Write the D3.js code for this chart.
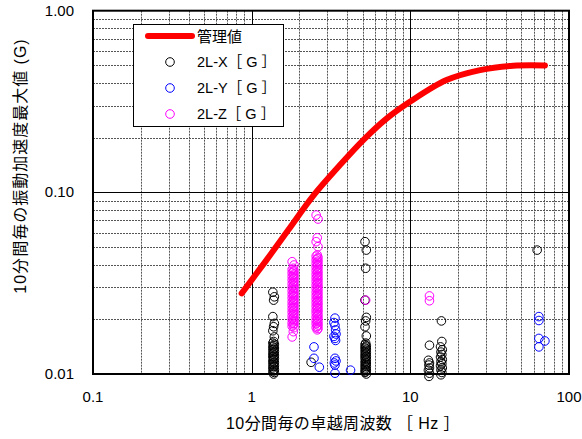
<!DOCTYPE html>
<html lang="ja">
  <head>
    <meta charset="UTF-8" />
    <title>卓越周波数と振動加速度</title>
    <script src="https://d3js.org/d3.v7.min.js"></script>
    <style>
      body { margin: 0; background: #fff; }
      text { font-family: "Liberation Sans", "Noto Sans CJK JP", sans-serif; fill: #000; }
    </style>
  </head>
  <body>
    <div id="chart"></div>
    <script>
      // 管理値 curve [Hz, G]
      var limitCurve = [
        [0.865, 0.0278], [1.213, 0.0413], [1.70, 0.062], [2.434, 0.0954], [3.60, 0.1413],
        [5.05, 0.194], [7.02, 0.253], [9.94, 0.315], [16.9, 0.415], [27.5, 0.471],
        [44.5, 0.498], [70.5, 0.5]
      ];

      // dense columns: the frequencies each column's points sit on, then their values (G)
      var xCol1Freqs = [1.36, 1.39, 1.375];
      var xCol1 = [
        0.0282, 0.0266, 0.0255, 0.0207, 0.019, 0.0182, 0.0173, 0.0160,
        0.0151, 0.0148, 0.0146, 0.0143, 0.0141, 0.0139, 0.0137, 0.0135, 0.0133, 0.0131,
        0.0129, 0.0127, 0.0125, 0.0124, 0.0122, 0.0120, 0.0118, 0.0116, 0.0115, 0.0113,
        0.0111, 0.0110, 0.0108, 0.0106, 0.0105, 0.0103, 0.0102, 0.0100
      ];
      var xCol2Freqs = [5.18, 5.28, 5.23];
      var xCol2 = [
        0.0535, 0.0481, 0.0382, 0.0255, 0.0205, 0.0196, 0.0182, 0.0162, 0.0148,
        0.0145, 0.0143, 0.0141, 0.0139, 0.0137, 0.0135, 0.0133, 0.0131, 0.0129, 0.0127,
        0.0125, 0.0124, 0.0122, 0.0120, 0.0118, 0.0116, 0.0115, 0.0113, 0.0111, 0.0110,
        0.0108, 0.0106, 0.0105, 0.0103, 0.0102, 0.0100
      ];
      var zCol1Freqs = [1.80, 1.85, 1.83];
      var zCol1 = [
        0.0415, 0.0398, 0.0382, 0.0376, 0.0371, 0.0365, 0.0360, 0.0354, 0.0349, 0.0344,
        0.0339, 0.0334, 0.0329, 0.0324, 0.0319, 0.0314, 0.0309, 0.0305, 0.0300, 0.0296,
        0.0291, 0.0287, 0.0282, 0.0278, 0.0274, 0.0270, 0.0266, 0.0262, 0.0258, 0.0254,
        0.0250, 0.0247, 0.0243, 0.0239, 0.0236, 0.0232, 0.0229, 0.0225, 0.0222, 0.0219,
        0.0216, 0.0212, 0.0209, 0.0206, 0.0203, 0.0200, 0.0197, 0.0194, 0.0191, 0.0189,
        0.0186, 0.0183, 0.0180, 0.0171, 0.0160
      ];
      var zCol2Freqs = [2.55, 2.62, 2.59];
      var zCol2 = [
        0.0750, 0.0713, 0.0562, 0.0535, 0.0502,
        0.0452, 0.0445, 0.0438, 0.0431, 0.0425, 0.0418, 0.0412, 0.0406, 0.0400, 0.0394,
        0.0388, 0.0382, 0.0376, 0.0371, 0.0365, 0.0360, 0.0354, 0.0349, 0.0344, 0.0339,
        0.0334, 0.0329, 0.0324, 0.0319, 0.0314, 0.0309, 0.0305, 0.0300, 0.0296, 0.0291,
        0.0287, 0.0282, 0.0278, 0.0274, 0.0270, 0.0266, 0.0262, 0.0258, 0.0254, 0.0250,
        0.0247, 0.0243, 0.0239, 0.0236, 0.0232, 0.0229, 0.0225, 0.0222, 0.0219, 0.0216,
        0.0212, 0.0209, 0.0206, 0.0203, 0.0200, 0.0197, 0.0194, 0.0191, 0.0189, 0.0186,
        0.0183, 0.0180, 0.0178, 0.0175
      ];

      // remaining single points [Hz, G]
      var xOther = [
        [2.37, 0.0116],
        [13.2, 0.0144], [13.0, 0.0119], [13.2, 0.0115], [13.1, 0.0112], [13.2, 0.0108],
        [13.0, 0.0105], [13.2, 0.0101], [13.1, 0.0097],
        [15.7, 0.0196], [15.8, 0.0151], [15.5, 0.0141], [15.9, 0.0136], [15.6, 0.0132],
        [15.8, 0.0128], [15.5, 0.0124], [15.9, 0.012], [15.6, 0.0117], [15.8, 0.0114],
        [15.5, 0.0111], [15.9, 0.0108], [15.6, 0.0105], [15.8, 0.0102], [15.6, 0.0099],
        [63.0, 0.0481]
      ];
      var seriesY = [
        [2.47, 0.0141], [2.47, 0.0122], [2.67, 0.0109],
        [3.35, 0.0203], [3.3, 0.0192], [3.35, 0.0185], [3.38, 0.0175], [3.4, 0.0166],
        [3.3, 0.0161], [3.35, 0.0157], [3.38, 0.0153], [3.35, 0.0122], [3.4, 0.0118],
        [3.32, 0.0115], [3.35, 0.0112], [3.35, 0.0101],
        [4.2, 0.0105],
        [64.6, 0.0207], [64.6, 0.0197], [64.6, 0.0157], [70.5, 0.0152], [64.6, 0.0141]
      ];
      var zOther = [
        [5.23, 0.0255],
        [13.2, 0.0269], [13.2, 0.0253]
      ];

      var xTicks = [0.1, 1, 10, 100];
      var yTicks = [0.01, 0.1, 1];
      var yTickLabels = ["0.01", "0.10", "1.00"];

      function column(freqs, values) {
        return values.map(function (v, i) { return [freqs[i % freqs.length], v]; });
      }
      var seriesX = column(xCol1Freqs, xCol1).concat(column(xCol2Freqs, xCol2), xOther);
      var seriesZ = column(zCol1Freqs, zCol1).concat(column(zCol2Freqs, zCol2), zOther);

      var width = 582, height = 439;
      var plotLeft = 93, plotRight = 569, plotTop = 10.7, plotBottom = 374;

      var svg = d3.select("#chart").append("svg")
        .attr("width", width).attr("height", height);

      var x = d3.scaleLog().domain([0.1, 100]).range([plotLeft, plotRight]);
      var y = d3.scaleLog().domain([0.01, 1]).range([plotBottom, plotTop]);

      // minor grid
      var minorX = [];
      [0.1, 1, 10].forEach(function (d) {
        for (var k = 2; k <= 9; k++) minorX.push(d * k);
      });
      var minorY = [];
      [0.01, 0.1].forEach(function (d) {
        for (var k = 2; k <= 9; k++) minorY.push(d * k);
      });

      var grid = svg.append("g");
      grid.selectAll(".mx").data(minorX).enter().append("line")
        .attr("x1", function (d) { return Math.round(x(d)) + 0.5; })
        .attr("x2", function (d) { return Math.round(x(d)) + 0.5; })
        .attr("y1", plotTop).attr("y2", plotBottom)
        .attr("stroke", "#555").attr("stroke-width", 1).attr("stroke-dasharray", "2,1");
      grid.selectAll(".my").data(minorY).enter().append("line")
        .attr("y1", function (d) { return Math.round(y(d)) + 0.5; })
        .attr("y2", function (d) { return Math.round(y(d)) + 0.5; })
        .attr("x1", plotLeft).attr("x2", plotRight)
        .attr("stroke", "#555").attr("stroke-width", 1).attr("stroke-dasharray", "2,1");

      // major grid
      grid.selectAll(".Mx").data([1, 10]).enter().append("line")
        .attr("x1", function (d) { return Math.round(x(d)) + 0.5; })
        .attr("x2", function (d) { return Math.round(x(d)) + 0.5; })
        .attr("y1", plotTop).attr("y2", plotBottom)
        .attr("stroke", "#000").attr("stroke-width", 1);
      grid.selectAll(".My").data([0.1]).enter().append("line")
        .attr("y1", function (d) { return Math.round(y(d)) + 0.5; })
        .attr("y2", function (d) { return Math.round(y(d)) + 0.5; })
        .attr("x1", plotLeft).attr("x2", plotRight)
        .attr("stroke", "#000").attr("stroke-width", 1);

      // frame
      svg.append("rect")
        .attr("x", plotLeft).attr("y", plotTop)
        .attr("width", plotRight - plotLeft).attr("height", plotBottom - plotTop)
        .attr("fill", "none").attr("stroke", "#000").attr("stroke-width", 2);

      // tick labels
      svg.selectAll(".xt").data(xTicks).enter().append("text")
        .attr("x", function (d) { return x(d); })
        .attr("y", 402)
        .attr("text-anchor", "middle")
        .style("font-size", "15px")
        .text(function (d) { return String(d); });
      svg.selectAll(".yt").data(yTicks).enter().append("text")
        .attr("x", 74)
        .attr("y", function (d) { return y(d) + 5; })
        .attr("text-anchor", "end")
        .style("font-size", "15px")
        .text(function (d, i) { return yTickLabels[i]; });

      // axis titles
      svg.append("text")
        .attr("x", 343).attr("y", 429)
        .attr("text-anchor", "middle")
        .style("font-size", "16px")
        .style("letter-spacing", "0.4px")
        .text("10分間毎の卓越周波数 ［ Hz ］");
      svg.append("text")
        .attr("transform", "translate(26,166) rotate(-90)")
        .attr("text-anchor", "middle")
        .style("font-size", "16px")
        .style("letter-spacing", "1px")
        .text("10分間毎の振動加速度最大値 (G)");

      // scatter series
      function drawPoints(data, color) {
        svg.append("g").selectAll("circle").data(data).enter().append("circle")
          .attr("cx", function (d) { return x(d[0]); })
          .attr("cy", function (d) { return y(d[1]); })
          .attr("r", 4.3)
          .attr("fill", "none")
          .attr("stroke", color)
          .attr("stroke-width", 1);
      }
      drawPoints(seriesX, "#000");
      drawPoints(seriesY, "#0000ff");
      drawPoints(seriesZ, "#ff00ff");

      // limit curve
      var line = d3.line()
        .x(function (d) { return x(d[0]); })
        .y(function (d) { return y(d[1]); })
        .curve(d3.curveCatmullRom.alpha(0.5));
      svg.append("path")
        .datum(limitCurve)
        .attr("d", line)
        .attr("fill", "none")
        .attr("stroke", "#ff0000")
        .attr("stroke-width", 6)
        .attr("stroke-linecap", "round");

      // legend
      var lg = svg.append("g");
      lg.append("rect")
        .attr("x", 133.5).attr("y", 24.5).attr("width", 150).attr("height", 102)
        .attr("fill", "#fff").attr("stroke", "#000").attr("stroke-width", 1);
      lg.append("line")
        .attr("x1", 148).attr("x2", 192).attr("y1", 36).attr("y2", 36)
        .attr("stroke", "#ff0000").attr("stroke-width", 6).attr("stroke-linecap", "round");
      lg.append("text").attr("x", 197).attr("y", 41.5)
        .style("font-size", "15px").text("管理値");
      var legendItems = [
        { label: "2L-X［ G ］", color: "#000", y: 62 },
        { label: "2L-Y［ G ］", color: "#0000ff", y: 88 },
        { label: "2L-Z［ G ］", color: "#ff00ff", y: 114 }
      ];
      legendItems.forEach(function (d) {
        lg.append("circle").attr("cx", 170).attr("cy", d.y).attr("r", 4.3)
          .attr("fill", "none").attr("stroke", d.color).attr("stroke-width", 1);
        lg.append("text").attr("x", 197).attr("y", d.y + 5)
          .style("font-size", "14.5px").text(d.label);
      });
    </script>
  </body>
</html>
